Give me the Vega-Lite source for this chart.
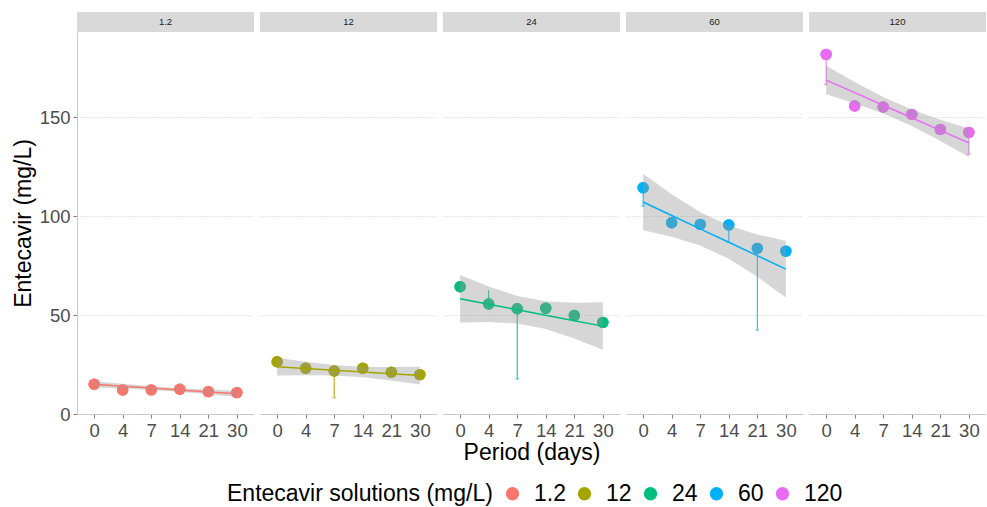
{
  "$schema": "https://vega.github.io/schema/vega-lite/v6.json",
  "padding": {"left": 12, "top": 12, "right": 0, "bottom": 0},
  "background": "white",
  "data": {
    "values": [
      {"k": "strip", "c": "1.2"}, {"k": "strip", "c": "12"}, {"k": "strip", "c": "24"}, {"k": "strip", "c": "60"}, {"k": "strip", "c": "120"},
      {"k": "pt", "c": "1.2", "p": "0", "v": 15.0}, {"k": "pt", "c": "1.2", "p": "4", "v": 12.1}, {"k": "pt", "c": "1.2", "p": "7", "v": 12.2},
      {"k": "pt", "c": "1.2", "p": "14", "v": 12.5}, {"k": "pt", "c": "1.2", "p": "21", "v": 11.3}, {"k": "pt", "c": "1.2", "p": "30", "v": 10.8},
      {"k": "pt", "c": "12", "p": "0", "v": 26.4}, {"k": "pt", "c": "12", "p": "4", "v": 23.1}, {"k": "pt", "c": "12", "p": "7", "v": 21.7},
      {"k": "pt", "c": "12", "p": "14", "v": 23.1}, {"k": "pt", "c": "12", "p": "21", "v": 21.1}, {"k": "pt", "c": "12", "p": "30", "v": 19.9},
      {"k": "pt", "c": "24", "p": "0", "v": 64.3}, {"k": "pt", "c": "24", "p": "4", "v": 55.6}, {"k": "pt", "c": "24", "p": "7", "v": 53.2},
      {"k": "pt", "c": "24", "p": "14", "v": 53.4}, {"k": "pt", "c": "24", "p": "21", "v": 49.8}, {"k": "pt", "c": "24", "p": "30", "v": 46.3},
      {"k": "pt", "c": "60", "p": "0", "v": 114.3}, {"k": "pt", "c": "60", "p": "4", "v": 96.6}, {"k": "pt", "c": "60", "p": "7", "v": 95.8},
      {"k": "pt", "c": "60", "p": "14", "v": 95.5}, {"k": "pt", "c": "60", "p": "21", "v": 83.7}, {"k": "pt", "c": "60", "p": "30", "v": 82.3},
      {"k": "pt", "c": "120", "p": "0", "v": 181.7}, {"k": "pt", "c": "120", "p": "4", "v": 155.6}, {"k": "pt", "c": "120", "p": "7", "v": 155.1},
      {"k": "pt", "c": "120", "p": "14", "v": 151.4}, {"k": "pt", "c": "120", "p": "21", "v": 143.8}, {"k": "pt", "c": "120", "p": "30", "v": 142.3},
      {"k": "err", "c": "1.2", "p": "0", "lo": 15.0, "hi": 17.6},
      {"k": "err", "c": "12", "p": "7", "lo": 8.2, "hi": 21.7},
      {"k": "err", "c": "24", "p": "4", "lo": 55.6, "hi": 62.5},
      {"k": "err", "c": "24", "p": "7", "lo": 17.7, "hi": 53.2},
      {"k": "err", "c": "60", "p": "0", "lo": 105.0, "hi": 114.3},
      {"k": "err", "c": "60", "p": "14", "lo": 86.7, "hi": 95.5},
      {"k": "err", "c": "60", "p": "21", "lo": 42.4, "hi": 83.7},
      {"k": "err", "c": "120", "p": "0", "lo": 166.5, "hi": 181.7},
      {"k": "err", "c": "120", "p": "30", "lo": 131.3, "hi": 142.3},
      {"k": "fit", "c": "1.2", "p": "0", "v": 15.0, "lo": 13.4, "hi": 16.6},
      {"k": "fit", "c": "1.2", "p": "4", "v": 14.04, "lo": 12.84, "hi": 15.24},
      {"k": "fit", "c": "1.2", "p": "7", "v": 13.08, "lo": 12.14, "hi": 14.02},
      {"k": "fit", "c": "1.2", "p": "14", "v": 12.12, "lo": 11.18, "hi": 13.06},
      {"k": "fit", "c": "1.2", "p": "21", "v": 11.16, "lo": 9.96, "hi": 12.36},
      {"k": "fit", "c": "1.2", "p": "30", "v": 10.2, "lo": 8.6, "hi": 11.8},
      {"k": "fit", "c": "12", "p": "0", "v": 23.9, "lo": 19.4, "hi": 28.4},
      {"k": "fit", "c": "12", "p": "4", "v": 23.0, "lo": 19.6, "hi": 26.4},
      {"k": "fit", "c": "12", "p": "7", "v": 22.1, "lo": 19.5, "hi": 24.7},
      {"k": "fit", "c": "12", "p": "14", "v": 21.2, "lo": 18.6, "hi": 23.8},
      {"k": "fit", "c": "12", "p": "21", "v": 20.3, "lo": 16.9, "hi": 23.7},
      {"k": "fit", "c": "12", "p": "30", "v": 19.4, "lo": 14.9, "hi": 23.9},
      {"k": "fit", "c": "24", "p": "0", "v": 58.2, "lo": 46.2, "hi": 70.2},
      {"k": "fit", "c": "24", "p": "4", "v": 55.44, "lo": 46.44, "hi": 64.44},
      {"k": "fit", "c": "24", "p": "7", "v": 52.68, "lo": 45.68, "hi": 59.68},
      {"k": "fit", "c": "24", "p": "14", "v": 49.92, "lo": 42.92, "hi": 56.92},
      {"k": "fit", "c": "24", "p": "21", "v": 47.16, "lo": 38.16, "hi": 56.16},
      {"k": "fit", "c": "24", "p": "30", "v": 44.4, "lo": 32.4, "hi": 56.4},
      {"k": "fit", "c": "60", "p": "0", "v": 107.1, "lo": 92.8, "hi": 121.4},
      {"k": "fit", "c": "60", "p": "4", "v": 100.3, "lo": 89.6, "hi": 111.0},
      {"k": "fit", "c": "60", "p": "7", "v": 93.5, "lo": 85.1, "hi": 101.9},
      {"k": "fit", "c": "60", "p": "14", "v": 86.8, "lo": 78.4, "hi": 95.2},
      {"k": "fit", "c": "60", "p": "21", "v": 80.0, "lo": 69.3, "hi": 90.7},
      {"k": "fit", "c": "60", "p": "30", "v": 73.2, "lo": 58.9, "hi": 87.5},
      {"k": "fit", "c": "120", "p": "0", "v": 168.7, "lo": 161.5, "hi": 175.9},
      {"k": "fit", "c": "120", "p": "4", "v": 162.4, "lo": 157.0, "hi": 167.8},
      {"k": "fit", "c": "120", "p": "7", "v": 156.0, "lo": 151.8, "hi": 160.2},
      {"k": "fit", "c": "120", "p": "14", "v": 149.7, "lo": 145.5, "hi": 153.9},
      {"k": "fit", "c": "120", "p": "21", "v": 143.3, "lo": 137.9, "hi": 148.7},
      {"k": "fit", "c": "120", "p": "30", "v": 137.0, "lo": 129.8, "hi": 144.2}
    ]
  },
  "facet": {
    "column": {
      "field": "c", "type": "ordinal", "sort": ["1.2", "12", "24", "60", "120"],
      "header": {"title": "Period (days)", "titleOrient": "bottom", "labels": false, "titleFontSize": 23, "titleFontWeight": "normal", "titleColor": "black", "titleFont": "Liberation Sans", "titlePadding": -8}
    }
  },
  "spacing": 6,
  "spec": {
    "width": 177,
    "height": 402,
    "layer": [
      {
        "transform": [{"filter": "datum.k === 'strip'"}],
        "mark": {"type": "rect", "color": "#D9D9D9"},
        "encoding": {
          "y": {"datum": 193, "type": "quantitative", "scale": {"domain": [0, 193], "range": [402, 20], "nice": false, "zero": false}},
          "y2": {"datum": 203.1}
        }
      },
      {
        "transform": [{"filter": "datum.k === 'strip'"}],
        "mark": {"type": "text", "fontSize": 9.5, "color": "#1A1A1A", "font": "Liberation Sans", "baseline": "middle"},
        "encoding": {
          "y": {"datum": 198.05, "type": "quantitative"},
          "text": {"field": "c", "type": "nominal"}
        }
      },
      {
        "transform": [{"filter": "datum.k === 'pt'"}],
        "mark": {"type": "circle", "size": 130, "opacity": 1},
        "encoding": {
          "x": {"field": "p", "type": "ordinal", "sort": ["0", "4", "7", "14", "21", "30"], "scale": {"type": "point", "padding": 0.6}, "axis": {"title": null}},
          "y": {"field": "v", "type": "quantitative", "axis": {"title": "Entecavir (mg/L)", "values": [0, 50, 100, 150]}},
          "color": {
            "field": "c", "type": "nominal",
            "scale": {"domain": ["1.2", "12", "24", "60", "120"], "range": ["#F8766D", "#A3A500", "#00BF7D", "#00B0F6", "#E76BF3"]},
            "legend": {"title": "Entecavir solutions (mg/L)", "orient": "none", "legendX": 150, "legendY": 470, "direction": "horizontal", "titleOrient": "left", "titleLimit": 500, "symbolType": "circle", "symbolSize": 140, "titleFontSize": 23, "labelFontSize": 23, "titleFontWeight": "normal", "titleColor": "black", "labelColor": "black", "titlePadding": 8, "labelOffset": 10, "columnPadding": 7, "titleFont": "Liberation Sans", "labelFont": "Liberation Sans", "titleBaseline": "middle"}
          }
        }
      },
      {
        "transform": [{"filter": "datum.k === 'err'"}],
        "mark": {"type": "rule", "strokeWidth": 1},
        "encoding": {
          "x": {"field": "p", "type": "ordinal", "sort": ["0", "4", "7", "14", "21", "30"]},
          "y": {"field": "lo", "type": "quantitative"},
          "y2": {"field": "hi"},
          "color": {"field": "c", "type": "nominal"}
        }
      },
      {
        "transform": [{"filter": "datum.k === 'err'"}],
        "mark": {"type": "tick", "size": 4, "thickness": 1, "orient": "horizontal"},
        "encoding": {
          "x": {"field": "p", "type": "ordinal", "sort": ["0", "4", "7", "14", "21", "30"]},
          "y": {"field": "lo", "type": "quantitative"},
          "color": {"field": "c", "type": "nominal"}
        }
      },
      {
        "transform": [{"filter": "datum.k === 'pt'"}],
        "mark": {"type": "circle", "size": 130, "opacity": 1},
        "encoding": {
          "x": {"field": "p", "type": "ordinal", "sort": ["0", "4", "7", "14", "21", "30"]},
          "y": {"field": "v", "type": "quantitative"},
          "color": {"field": "c", "type": "nominal"}
        }
      },
      {
        "transform": [{"filter": "datum.k === 'fit'"}],
        "mark": {"type": "area", "color": "#999999", "opacity": 0.4},
        "encoding": {
          "x": {"field": "p", "type": "ordinal", "sort": ["0", "4", "7", "14", "21", "30"]},
          "y": {"field": "lo", "type": "quantitative"},
          "y2": {"field": "hi"}
        }
      },
      {
        "transform": [{"filter": "datum.k === 'fit'"}],
        "mark": {"type": "line", "strokeWidth": 1.5},
        "encoding": {
          "x": {"field": "p", "type": "ordinal", "sort": ["0", "4", "7", "14", "21", "30"]},
          "y": {"field": "v", "type": "quantitative"},
          "color": {"field": "c", "type": "nominal"}
        }
      }
    ]
  },
  "config": {
    "font": "Liberation Sans",
    "view": {"stroke": null},
    "axis": {
      "labelFont": "Liberation Sans", "labelFontSize": 18.5, "labelColor": "#4D4D4D",
      "tickColor": "#7F7F7F", "tickSize": 4, "domainColor": "#C8C8C8",
      "titleFont": "Liberation Sans", "titleFontWeight": "normal", "titleFontSize": 23, "titleColor": "black"
    },
    "axisY": {"grid": true, "gridDash": [1, 2], "gridColor": "#CFCFCF", "labelPadding": 3, "titlePadding": 4},
    "axisX": {"grid": false, "labelPadding": 3, "labelAngle": 0}
  }
}
